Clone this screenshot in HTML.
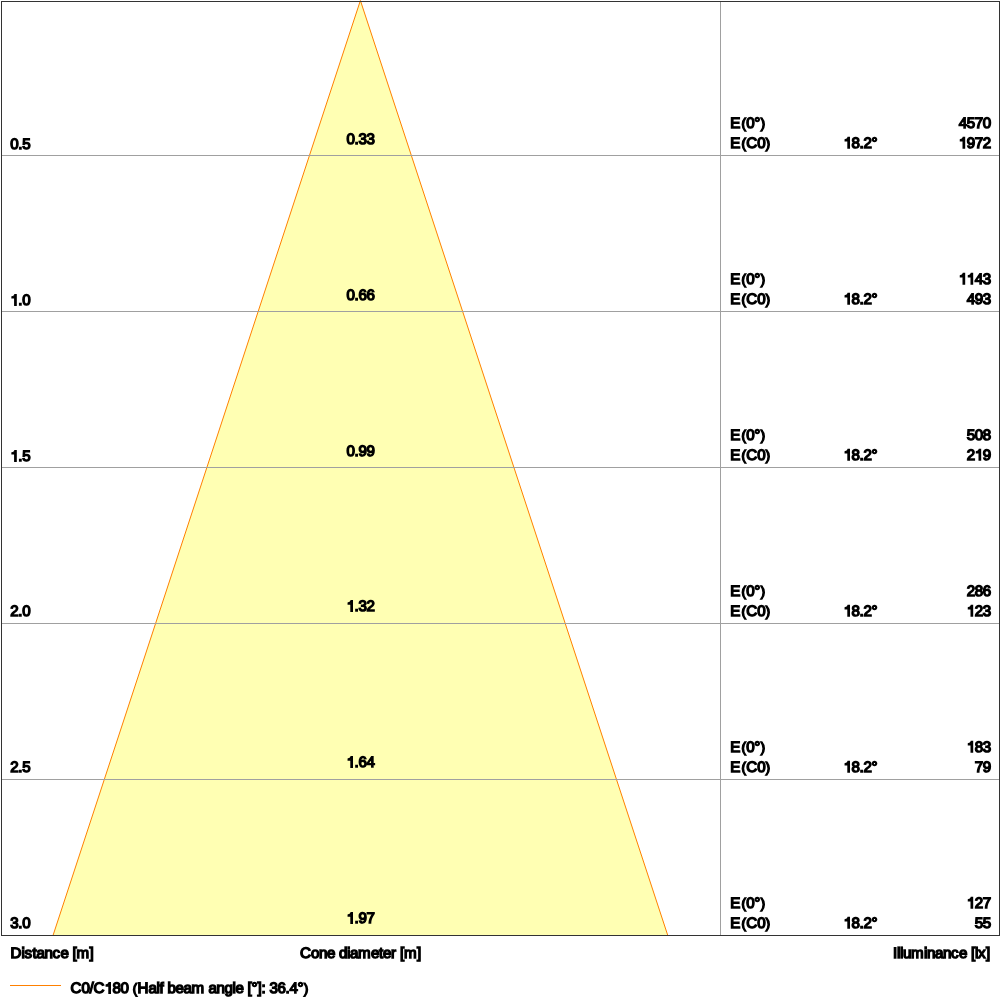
<!DOCTYPE html>
<html><head><meta charset="utf-8"><title>Cone diagram</title>
<style>
html,body{margin:0;padding:0;background:#fff;}
body{width:1000px;height:1000px;overflow:hidden;}
svg{display:block;will-change:transform;}
text{font-family:"Liberation Sans",sans-serif;font-size:15.1px;fill:#000;stroke:#000;stroke-width:1.4;stroke-linejoin:miter;white-space:pre;text-rendering:geometricPrecision;}
.g{fill:#000;stroke:#000;stroke-width:1.4;stroke-linejoin:miter;}
</style></head><body>
<svg width="1000" height="1000" viewBox="0 0 1000 1000">
<rect x="0" y="0" width="1000" height="1000" fill="#fff"/>
<polygon points="360.4,0.5 667.8,935.5 53,935.5" fill="#ffffb3"/>
<path d="M53,935.5 L360.4,0.5 L667.8,935.5" fill="none" stroke="#ff8000" stroke-width="1"/>
<rect x="2" y="155" width="997" height="1" fill="#a0a0a0"/>
<rect x="2" y="311" width="997" height="1" fill="#a0a0a0"/>
<rect x="2" y="467" width="997" height="1" fill="#a0a0a0"/>
<rect x="2" y="623" width="997" height="1" fill="#a0a0a0"/>
<rect x="2" y="779" width="997" height="1" fill="#a0a0a0"/>
<rect x="720" y="2" width="1" height="933" fill="#a0a0a0"/>
<rect x="1" y="1" width="999" height="1" fill="#333"/>
<rect x="1" y="1" width="1" height="935" fill="#333"/>
<rect x="999" y="1" width="1" height="935" fill="#333"/>
<rect x="1" y="935" width="999" height="1" fill="#333"/>
<text x="10.3 18.3 22.3" y="149.2">0.5</text>
<text x="346.5 354.5 358.5 366.5" y="144.3">0.33</text>
<text x="730.3 741.3 746.3 754.3 760.3" y="128.1">E 0° </text>
<path class="g" transform="translate(741.3 128.1)" d="M4.4,-10.1L3.45,-10.1A9.76,9.76 0 0 0 3.45,2.9L4.4,2.9A10.66,10.66 0 0 1 4.4,-10.1Z"/>
<path class="g" transform="translate(760.3 128.1)" d="M0.6,-10.1L1.55,-10.1A9.76,9.76 0 0 1 1.55,2.9L0.6,2.9A10.66,10.66 0 0 0 0.6,-10.1Z"/>
<text x="730.3 741.3 746.3 757.3 765.3" y="148.1">E C0 </text>
<path class="g" transform="translate(741.3 148.1)" d="M4.4,-10.1L3.45,-10.1A9.76,9.76 0 0 0 3.45,2.9L4.4,2.9A10.66,10.66 0 0 1 4.4,-10.1Z"/>
<path class="g" transform="translate(765.3 148.1)" d="M0.6,-10.1L1.55,-10.1A9.76,9.76 0 0 1 1.55,2.9L0.6,2.9A10.66,10.66 0 0 0 0.6,-10.1Z"/>
<text x="843.5 851.5 859.5 863.5 871.5" y="148.1"> 8.2°</text>
<path class="g" transform="translate(843.5 148.1)" d="M5.8,0L4.5,0L4.5,-7.5L1.75,-7.4L1.75,-8.3C3.2,-8.5 4.2,-9.3 4.6,-10.55L5.8,-10.55Z"/>
<text x="958.7 966.7 974.7 982.7" y="128.1">4570</text>
<text x="958.7 966.7 974.7 982.7" y="148.1"> 972</text>
<path class="g" transform="translate(958.7 148.1)" d="M5.8,0L4.5,0L4.5,-7.5L1.75,-7.4L1.75,-8.3C3.2,-8.5 4.2,-9.3 4.6,-10.55L5.8,-10.55Z"/>
<text x="10.3 18.3 22.3" y="305.2"> .0</text>
<path class="g" transform="translate(10.3 305.2)" d="M5.8,0L4.5,0L4.5,-7.5L1.75,-7.4L1.75,-8.3C3.2,-8.5 4.2,-9.3 4.6,-10.55L5.8,-10.55Z"/>
<text x="346.5 354.5 358.5 366.5" y="300.3">0.66</text>
<text x="730.3 741.3 746.3 754.3 760.3" y="284.1">E 0° </text>
<path class="g" transform="translate(741.3 284.1)" d="M4.4,-10.1L3.45,-10.1A9.76,9.76 0 0 0 3.45,2.9L4.4,2.9A10.66,10.66 0 0 1 4.4,-10.1Z"/>
<path class="g" transform="translate(760.3 284.1)" d="M0.6,-10.1L1.55,-10.1A9.76,9.76 0 0 1 1.55,2.9L0.6,2.9A10.66,10.66 0 0 0 0.6,-10.1Z"/>
<text x="730.3 741.3 746.3 757.3 765.3" y="304.1">E C0 </text>
<path class="g" transform="translate(741.3 304.1)" d="M4.4,-10.1L3.45,-10.1A9.76,9.76 0 0 0 3.45,2.9L4.4,2.9A10.66,10.66 0 0 1 4.4,-10.1Z"/>
<path class="g" transform="translate(765.3 304.1)" d="M0.6,-10.1L1.55,-10.1A9.76,9.76 0 0 1 1.55,2.9L0.6,2.9A10.66,10.66 0 0 0 0.6,-10.1Z"/>
<text x="843.5 851.5 859.5 863.5 871.5" y="304.1"> 8.2°</text>
<path class="g" transform="translate(843.5 304.1)" d="M5.8,0L4.5,0L4.5,-7.5L1.75,-7.4L1.75,-8.3C3.2,-8.5 4.2,-9.3 4.6,-10.55L5.8,-10.55Z"/>
<text x="958.7 966.7 974.7 982.7" y="284.1">  43</text>
<path class="g" transform="translate(958.7 284.1)" d="M5.8,0L4.5,0L4.5,-7.5L1.75,-7.4L1.75,-8.3C3.2,-8.5 4.2,-9.3 4.6,-10.55L5.8,-10.55Z"/>
<path class="g" transform="translate(966.7 284.1)" d="M5.8,0L4.5,0L4.5,-7.5L1.75,-7.4L1.75,-8.3C3.2,-8.5 4.2,-9.3 4.6,-10.55L5.8,-10.55Z"/>
<text x="966.7 974.7 982.7" y="304.1">493</text>
<text x="10.3 18.3 22.3" y="461.2"> .5</text>
<path class="g" transform="translate(10.3 461.2)" d="M5.8,0L4.5,0L4.5,-7.5L1.75,-7.4L1.75,-8.3C3.2,-8.5 4.2,-9.3 4.6,-10.55L5.8,-10.55Z"/>
<text x="346.5 354.5 358.5 366.5" y="456.3">0.99</text>
<text x="730.3 741.3 746.3 754.3 760.3" y="440.1">E 0° </text>
<path class="g" transform="translate(741.3 440.1)" d="M4.4,-10.1L3.45,-10.1A9.76,9.76 0 0 0 3.45,2.9L4.4,2.9A10.66,10.66 0 0 1 4.4,-10.1Z"/>
<path class="g" transform="translate(760.3 440.1)" d="M0.6,-10.1L1.55,-10.1A9.76,9.76 0 0 1 1.55,2.9L0.6,2.9A10.66,10.66 0 0 0 0.6,-10.1Z"/>
<text x="730.3 741.3 746.3 757.3 765.3" y="460.1">E C0 </text>
<path class="g" transform="translate(741.3 460.1)" d="M4.4,-10.1L3.45,-10.1A9.76,9.76 0 0 0 3.45,2.9L4.4,2.9A10.66,10.66 0 0 1 4.4,-10.1Z"/>
<path class="g" transform="translate(765.3 460.1)" d="M0.6,-10.1L1.55,-10.1A9.76,9.76 0 0 1 1.55,2.9L0.6,2.9A10.66,10.66 0 0 0 0.6,-10.1Z"/>
<text x="843.5 851.5 859.5 863.5 871.5" y="460.1"> 8.2°</text>
<path class="g" transform="translate(843.5 460.1)" d="M5.8,0L4.5,0L4.5,-7.5L1.75,-7.4L1.75,-8.3C3.2,-8.5 4.2,-9.3 4.6,-10.55L5.8,-10.55Z"/>
<text x="966.7 974.7 982.7" y="440.1">508</text>
<text x="966.7 974.7 982.7" y="460.1">2 9</text>
<path class="g" transform="translate(974.7 460.1)" d="M5.8,0L4.5,0L4.5,-7.5L1.75,-7.4L1.75,-8.3C3.2,-8.5 4.2,-9.3 4.6,-10.55L5.8,-10.55Z"/>
<text x="10.3 18.3 22.3" y="616.2">2.0</text>
<text x="346.5 354.5 358.5 366.5" y="611.3"> .32</text>
<path class="g" transform="translate(346.5 611.3)" d="M5.8,0L4.5,0L4.5,-7.5L1.75,-7.4L1.75,-8.3C3.2,-8.5 4.2,-9.3 4.6,-10.55L5.8,-10.55Z"/>
<text x="730.3 741.3 746.3 754.3 760.3" y="596.1">E 0° </text>
<path class="g" transform="translate(741.3 596.1)" d="M4.4,-10.1L3.45,-10.1A9.76,9.76 0 0 0 3.45,2.9L4.4,2.9A10.66,10.66 0 0 1 4.4,-10.1Z"/>
<path class="g" transform="translate(760.3 596.1)" d="M0.6,-10.1L1.55,-10.1A9.76,9.76 0 0 1 1.55,2.9L0.6,2.9A10.66,10.66 0 0 0 0.6,-10.1Z"/>
<text x="730.3 741.3 746.3 757.3 765.3" y="616.1">E C0 </text>
<path class="g" transform="translate(741.3 616.1)" d="M4.4,-10.1L3.45,-10.1A9.76,9.76 0 0 0 3.45,2.9L4.4,2.9A10.66,10.66 0 0 1 4.4,-10.1Z"/>
<path class="g" transform="translate(765.3 616.1)" d="M0.6,-10.1L1.55,-10.1A9.76,9.76 0 0 1 1.55,2.9L0.6,2.9A10.66,10.66 0 0 0 0.6,-10.1Z"/>
<text x="843.5 851.5 859.5 863.5 871.5" y="616.1"> 8.2°</text>
<path class="g" transform="translate(843.5 616.1)" d="M5.8,0L4.5,0L4.5,-7.5L1.75,-7.4L1.75,-8.3C3.2,-8.5 4.2,-9.3 4.6,-10.55L5.8,-10.55Z"/>
<text x="966.7 974.7 982.7" y="596.1">286</text>
<text x="966.7 974.7 982.7" y="616.1"> 23</text>
<path class="g" transform="translate(966.7 616.1)" d="M5.8,0L4.5,0L4.5,-7.5L1.75,-7.4L1.75,-8.3C3.2,-8.5 4.2,-9.3 4.6,-10.55L5.8,-10.55Z"/>
<text x="10.3 18.3 22.3" y="772.2">2.5</text>
<text x="346.5 354.5 358.5 366.5" y="767.3"> .64</text>
<path class="g" transform="translate(346.5 767.3)" d="M5.8,0L4.5,0L4.5,-7.5L1.75,-7.4L1.75,-8.3C3.2,-8.5 4.2,-9.3 4.6,-10.55L5.8,-10.55Z"/>
<text x="730.3 741.3 746.3 754.3 760.3" y="752.1">E 0° </text>
<path class="g" transform="translate(741.3 752.1)" d="M4.4,-10.1L3.45,-10.1A9.76,9.76 0 0 0 3.45,2.9L4.4,2.9A10.66,10.66 0 0 1 4.4,-10.1Z"/>
<path class="g" transform="translate(760.3 752.1)" d="M0.6,-10.1L1.55,-10.1A9.76,9.76 0 0 1 1.55,2.9L0.6,2.9A10.66,10.66 0 0 0 0.6,-10.1Z"/>
<text x="730.3 741.3 746.3 757.3 765.3" y="772.1">E C0 </text>
<path class="g" transform="translate(741.3 772.1)" d="M4.4,-10.1L3.45,-10.1A9.76,9.76 0 0 0 3.45,2.9L4.4,2.9A10.66,10.66 0 0 1 4.4,-10.1Z"/>
<path class="g" transform="translate(765.3 772.1)" d="M0.6,-10.1L1.55,-10.1A9.76,9.76 0 0 1 1.55,2.9L0.6,2.9A10.66,10.66 0 0 0 0.6,-10.1Z"/>
<text x="843.5 851.5 859.5 863.5 871.5" y="772.1"> 8.2°</text>
<path class="g" transform="translate(843.5 772.1)" d="M5.8,0L4.5,0L4.5,-7.5L1.75,-7.4L1.75,-8.3C3.2,-8.5 4.2,-9.3 4.6,-10.55L5.8,-10.55Z"/>
<text x="966.7 974.7 982.7" y="752.1"> 83</text>
<path class="g" transform="translate(966.7 752.1)" d="M5.8,0L4.5,0L4.5,-7.5L1.75,-7.4L1.75,-8.3C3.2,-8.5 4.2,-9.3 4.6,-10.55L5.8,-10.55Z"/>
<text x="974.7 982.7" y="772.1">79</text>
<text x="10.3 18.3 22.3" y="928.2">3.0</text>
<text x="346.5 354.5 358.5 366.5" y="923.3"> .97</text>
<path class="g" transform="translate(346.5 923.3)" d="M5.8,0L4.5,0L4.5,-7.5L1.75,-7.4L1.75,-8.3C3.2,-8.5 4.2,-9.3 4.6,-10.55L5.8,-10.55Z"/>
<text x="730.3 741.3 746.3 754.3 760.3" y="908.1">E 0° </text>
<path class="g" transform="translate(741.3 908.1)" d="M4.4,-10.1L3.45,-10.1A9.76,9.76 0 0 0 3.45,2.9L4.4,2.9A10.66,10.66 0 0 1 4.4,-10.1Z"/>
<path class="g" transform="translate(760.3 908.1)" d="M0.6,-10.1L1.55,-10.1A9.76,9.76 0 0 1 1.55,2.9L0.6,2.9A10.66,10.66 0 0 0 0.6,-10.1Z"/>
<text x="730.3 741.3 746.3 757.3 765.3" y="928.1">E C0 </text>
<path class="g" transform="translate(741.3 928.1)" d="M4.4,-10.1L3.45,-10.1A9.76,9.76 0 0 0 3.45,2.9L4.4,2.9A10.66,10.66 0 0 1 4.4,-10.1Z"/>
<path class="g" transform="translate(765.3 928.1)" d="M0.6,-10.1L1.55,-10.1A9.76,9.76 0 0 1 1.55,2.9L0.6,2.9A10.66,10.66 0 0 0 0.6,-10.1Z"/>
<text x="843.5 851.5 859.5 863.5 871.5" y="928.1"> 8.2°</text>
<path class="g" transform="translate(843.5 928.1)" d="M5.8,0L4.5,0L4.5,-7.5L1.75,-7.4L1.75,-8.3C3.2,-8.5 4.2,-9.3 4.6,-10.55L5.8,-10.55Z"/>
<text x="966.7 974.7 982.7" y="908.1"> 27</text>
<path class="g" transform="translate(966.7 908.1)" d="M5.8,0L4.5,0L4.5,-7.5L1.75,-7.4L1.75,-8.3C3.2,-8.5 4.2,-9.3 4.6,-10.55L5.8,-10.55Z"/>
<text x="974.7 982.7" y="928.1">55</text>
<text x="10.5 21.5 24.5 32.5 36.5 44.5 52.5 60.5 68.5 72.5 76.5 89.5" y="958.1">Distance [m]</text>
<text x="300 311 319 327 335 339 347 350 358 371 379 383 391 396 400 404 417" y="958.1">Cone diameter [m]</text>
<text x="893 897 900 903 911 924 927 935 943 951 959 967 971 975 978 986" y="958.1">Illuminance [lx]</text>
<rect x="10" y="985" width="51" height="1" fill="#ff8000"/>
<text x="70.5 81.5 89.5 93.5 104.5 112.5 120.5 128.5 132.5 137.5 148.5 156.5 159.5 163.5 167.5 175.5 183.5 191.5 204.5 208.5 216.5 224.5 232.5 235.5 243.5 247.5 251.5 257.5 261.5 265.5 269.5 277.5 285.5 289.5 297.5 303.5" y="993.3">C0/C 80  Half beam angle [°]: 36.4° </text>
<path class="g" transform="translate(104.5 993.3)" d="M5.8,0L4.5,0L4.5,-7.5L1.75,-7.4L1.75,-8.3C3.2,-8.5 4.2,-9.3 4.6,-10.55L5.8,-10.55Z"/>
<path class="g" transform="translate(132.5 993.3)" d="M4.4,-10.1L3.45,-10.1A9.76,9.76 0 0 0 3.45,2.9L4.4,2.9A10.66,10.66 0 0 1 4.4,-10.1Z"/>
<path class="g" transform="translate(303.5 993.3)" d="M0.6,-10.1L1.55,-10.1A9.76,9.76 0 0 1 1.55,2.9L0.6,2.9A10.66,10.66 0 0 0 0.6,-10.1Z"/>
</svg></body></html>
